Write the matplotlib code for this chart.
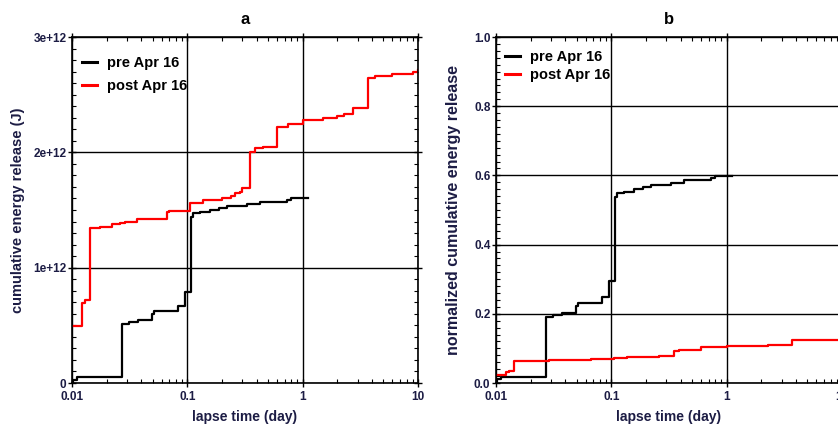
"""
Cumulative energy release before / after Apr 16, raw (a) and normalized (b).
"""

import numpy as np
import matplotlib
matplotlib.use('Agg')
import matplotlib.pyplot as plt
from matplotlib.ticker import LogLocator, MultipleLocator, FixedFormatter, FixedLocator

plt.rcParams['font.family'] = ['Liberation Sans', 'DejaVu Sans']

# lapse time (day) and cumulative energy (x1e12 J), step-post
pre_time = [0.01, 0.0103, 0.011, 0.0272, 0.031, 0.0376, 0.049, 0.051, 0.0836,
            0.095, 0.1077, 0.112, 0.13, 0.157, 0.19, 0.22, 0.326, 0.43, 0.73,
            0.80, 1.12]
pre_energy = [0.0, 0.03, 0.05, 0.51, 0.53, 0.545, 0.60, 0.62, 0.665,
              0.79, 1.44, 1.47, 1.48, 1.50, 1.52, 1.535, 1.55, 1.57, 1.587,
              1.607, 1.607]

post_time = [0.01, 0.0121, 0.0130, 0.0143, 0.0175, 0.0221, 0.026, 0.029, 0.0364,
             0.05, 0.066, 0.07, 0.105, 0.137, 0.2, 0.24, 0.26, 0.285, 0.297,
             0.349, 0.386, 0.45, 0.596, 0.75, 1.0, 1.5, 2.0, 2.3, 2.72, 3.7,
             4.2, 6.0, 9.1, 10.0]
post_energy = [0.494, 0.69, 0.72, 1.341, 1.355, 1.376, 1.39, 1.40, 1.419,
               1.425, 1.48, 1.494, 1.558, 1.587, 1.605, 1.62, 1.65, 1.66, 1.69,
               2.006, 2.035, 2.05, 2.222, 2.25, 2.28, 2.30, 2.315, 2.332, 2.382,
               2.642, 2.665, 2.68, 2.70, 2.714]

# totals used for normalization in panel b (x1e12 J)
pre_total = 2.68
post_total = 21.5

series_labels = ['pre Apr 16', 'post Apr 16']
series_colors = ['black', 'red']
x_ticks = [0.01, 0.1, 1, 10]
x_ticklabels = ['0.01', '0.1', '1', '10']
a_yticks = [0, 1e12, 2e12, 3e12]
a_yticklabels = ['0', '1e+12', '2e+12', '3e+12']
b_yticks = [0.0, 0.2, 0.4, 0.6, 0.8, 1.0]
b_yticklabels = ['0.0', '0.2', '0.4', '0.6', '0.8', '1.0']
text_color = '#1c1c44'


def style_axis(ax, yticks, yticklabels, yminor):
    ax.set_xscale('log')
    ax.set_xlim(x_ticks[0], x_ticks[-1])
    ax.set_ylim(yticks[0], yticks[-1])
    ax.xaxis.set_major_locator(FixedLocator(x_ticks))
    ax.xaxis.set_major_formatter(FixedFormatter(x_ticklabels))
    ax.xaxis.set_minor_locator(LogLocator(base=10, subs=np.arange(2, 10)))
    ax.yaxis.set_major_locator(FixedLocator(yticks))
    ax.yaxis.set_major_formatter(FixedFormatter(yticklabels))
    ax.yaxis.set_minor_locator(MultipleLocator(yminor))
    ax.tick_params(which='major', direction='inout', length=6, width=1,
                   top=True, right=True, labelsize=8.5, labelcolor=text_color, pad=1)
    ax.tick_params(axis='x', which='major', pad=3)
    ax.tick_params(which='minor', direction='in', length=3, width=0.8,
                   top=True, right=True)
    for lbl in ax.get_xticklabels() + ax.get_yticklabels():
        lbl.set_fontweight('bold')
    ax.grid(True, which='major', color='black', linewidth=1.0)
    ax.set_axisbelow(True)
    for sp in ax.spines.values():
        sp.set_linewidth(1.2)
    ax.set_xlabel('lapse time (day)', fontsize=10, fontweight='bold', color=text_color)
    ax.xaxis.set_label_coords(0.5, -0.078)


fig = plt.figure(figsize=(8.38, 4.26), dpi=100)
ax_a = fig.add_axes([72 / 838, 1 - 383 / 426, 346 / 838, 346 / 426])
ax_b = fig.add_axes([496 / 838, 1 - 383 / 426, 346 / 838, 346 / 426])

# panel a
ax_a.plot(pre_time, np.array(pre_energy) * 1e12, drawstyle='steps-post',
          color=series_colors[0], lw=1.6, label=series_labels[0])
ax_a.plot(post_time, np.array(post_energy) * 1e12, drawstyle='steps-post',
          color=series_colors[1], lw=1.6, label=series_labels[1])
style_axis(ax_a, a_yticks, a_yticklabels, 0.1e12)
ax_a.set_ylabel('cumulative energy release (J)', fontsize=10.5, fontweight='bold',
                color=text_color)
ax_a.yaxis.set_label_coords(-0.135, 0.5)
ax_a.set_title('a', fontsize=12, fontweight='bold', pad=9)
leg = ax_a.legend(loc='upper left', bbox_to_anchor=(0.012, 0.963), frameon=False,
                  handlelength=1.0, handletextpad=0.7, labelspacing=0.65,
                  borderaxespad=0, prop={'weight': 'bold', 'size': 10.5})
for h in leg.get_lines():
    h.set_linewidth(2.2)

# panel b
ax_b.plot(pre_time, np.array(pre_energy) / pre_total, drawstyle='steps-post',
          color=series_colors[0], lw=1.6, label=series_labels[0])
ax_b.plot(post_time, np.array(post_energy) / post_total, drawstyle='steps-post',
          color=series_colors[1], lw=1.6, label=series_labels[1])
style_axis(ax_b, b_yticks, b_yticklabels, 0.02)
ax_b.set_ylabel('normalized cumulative energy release', fontsize=11.5,
                fontweight='bold', color=text_color)
ax_b.yaxis.set_label_coords(-0.1, 0.5)
ax_b.set_title('b', fontsize=12, fontweight='bold', pad=9)
leg = ax_b.legend(loc='upper left', bbox_to_anchor=(0.01, 0.98), frameon=False,
                  handlelength=1.0, handletextpad=0.7, labelspacing=0.28,
                  borderaxespad=0, prop={'weight': 'bold', 'size': 10.5})
for h in leg.get_lines():
    h.set_linewidth(2.2)

fig.savefig('out.png', dpi=100)
